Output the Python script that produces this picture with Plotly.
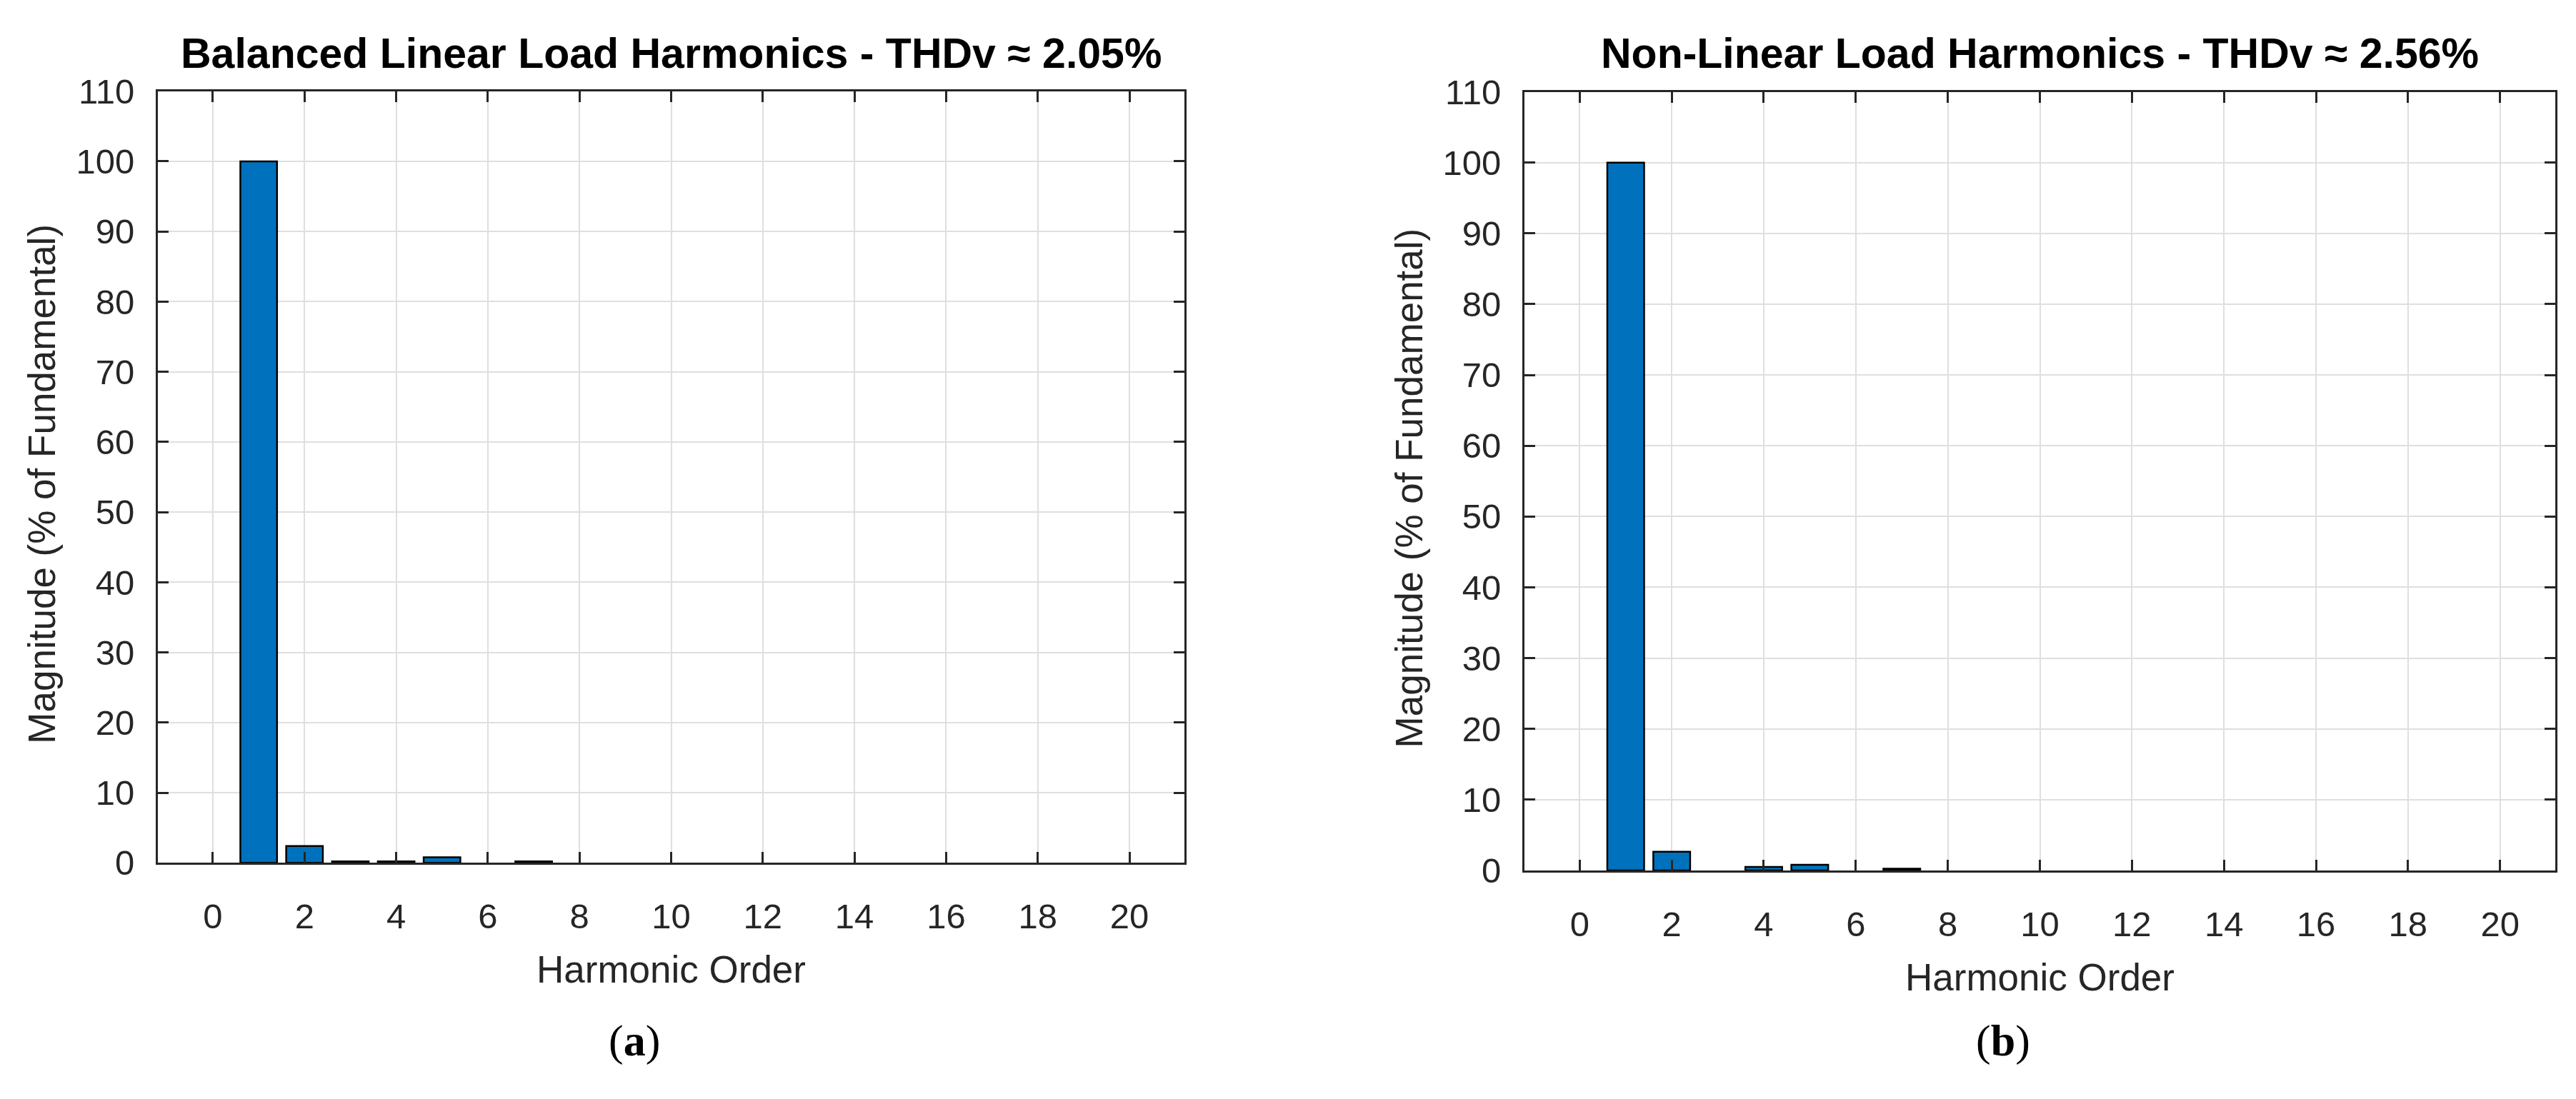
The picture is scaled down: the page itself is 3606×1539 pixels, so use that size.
import plotly.graph_objects as go

# harmonic orders 0..20
orders = list(range(21))

# magnitude (% of fundamental)
linear_mag = [0, 100, 2.4, 0.2, 0.2, 0.8, 0, 0.2, 0, 0, 0,
              0, 0, 0, 0, 0, 0, 0, 0, 0, 0]
nonlinear_mag = [0, 100, 2.65, 0, 0.5, 0.8, 0, 0.25, 0, 0, 0,
                 0, 0, 0, 0, 0, 0, 0, 0, 0, 0]

titles = ["Balanced Linear Load Harmonics - THDv \u2248 2.05%",
          "Non-Linear Load Harmonics - THDv \u2248 2.56%"]
panel_tags = ["(<b>a</b>)", "(<b>b</b>)"]

W, H = 3606, 1539
BLUE = "#0072BD"
AXC = "#262626"
FONT = "Liberation Sans, Arial, Helvetica, sans-serif"

fig = go.Figure()


def bar_trace(vals, xa, ya):
    # zero-height bars get no outline so they do not show on the baseline
    edge = [2.5 if v > 0 else 0 for v in vals]
    return go.Bar(x=orders, y=vals, width=0.8,
                  marker=dict(color=BLUE, line=dict(color="black", width=edge)),
                  xaxis=xa, yaxis=ya, showlegend=False)


fig.add_trace(bar_trace(linear_mag, "x", "y"))
fig.add_trace(bar_trace(nonlinear_mag, "x2", "y2"))

# axes boxes in pixels: (left, right, top, bottom)
boxes = [(213, 1650, 96, 1216), (2126, 3569, 97, 1227)]


def xaxis_cfg(dom, anchor):
    return dict(domain=dom, anchor=anchor, range=[-1.2, 21.2],
                tickmode="linear", tick0=0, dtick=2,
                showline=True, linecolor=AXC, linewidth=3, mirror="ticks",
                ticks="inside", ticklen=15, tickwidth=2.5, tickcolor=AXC,
                showgrid=True, gridcolor="#dfdfdf", gridwidth=2,
                zeroline=False, ticklabelstandoff=30,
                tickfont=dict(family=FONT, size=49, color=AXC))


def yaxis_cfg(dom, anchor):
    return dict(domain=dom, anchor=anchor, range=[0, 110],
                tickmode="linear", tick0=0, dtick=10,
                showline=True, linecolor=AXC, linewidth=3, mirror="ticks",
                ticks="inside", ticklen=15, tickwidth=2.5, tickcolor=AXC,
                showgrid=True, gridcolor="#dfdfdf", gridwidth=2,
                zeroline=False, ticklabelstandoff=20,
                tickfont=dict(family=FONT, size=49, color=AXC))


doms = []
for (l, r, t, b) in boxes:
    doms.append(([l / W, r / W], [1 - b / H, 1 - t / H]))

fig.update_layout(
    width=W, height=H,
    margin=dict(l=0, r=0, t=0, b=0),
    paper_bgcolor="white", plot_bgcolor="white",
    xaxis=xaxis_cfg(doms[0][0], "y"),
    yaxis=yaxis_cfg(doms[0][1], "x"),
    xaxis2=xaxis_cfg(doms[1][0], "y2"),
    yaxis2=yaxis_cfg(doms[1][1], "x2"),
)

for i, (l, r, t, b) in enumerate(boxes):
    cx = (l + r) / 2 / W
    # title
    fig.add_annotation(text="<b>" + titles[i] + "</b>", x=cx, y=1 - 41 / H,
                       xref="paper", yref="paper", showarrow=False,
                       xanchor="center", yanchor="middle",
                       font=dict(family=FONT, size=59, color="black"))
    # x label
    fig.add_annotation(text="Harmonic Order", x=cx, y=1 - (b + 155) / H,
                       xref="paper", yref="paper", showarrow=False,
                       xanchor="center", yanchor="middle",
                       font=dict(family=FONT, size=53, color=AXC))
    # y label
    fig.add_annotation(text="Magnitude (% of Fundamental)", x=(l - 162) / W,
                       y=1 - ((t + b) / 2 + 10) / H,
                       xref="paper", yref="paper", showarrow=False, textangle=-90,
                       xanchor="center", yanchor="middle",
                       font=dict(family=FONT, size=53, color=AXC))
    # panel tag
    fig.add_annotation(text=panel_tags[i], x=(cx * W - 52) / W, y=1 - 1474 / H,
                       xref="paper", yref="paper", showarrow=False,
                       xanchor="center", yanchor="middle",
                       font=dict(family="Liberation Serif, Times New Roman, serif",
                                 size=62, color="black"))

fig.write_html("out.html")
